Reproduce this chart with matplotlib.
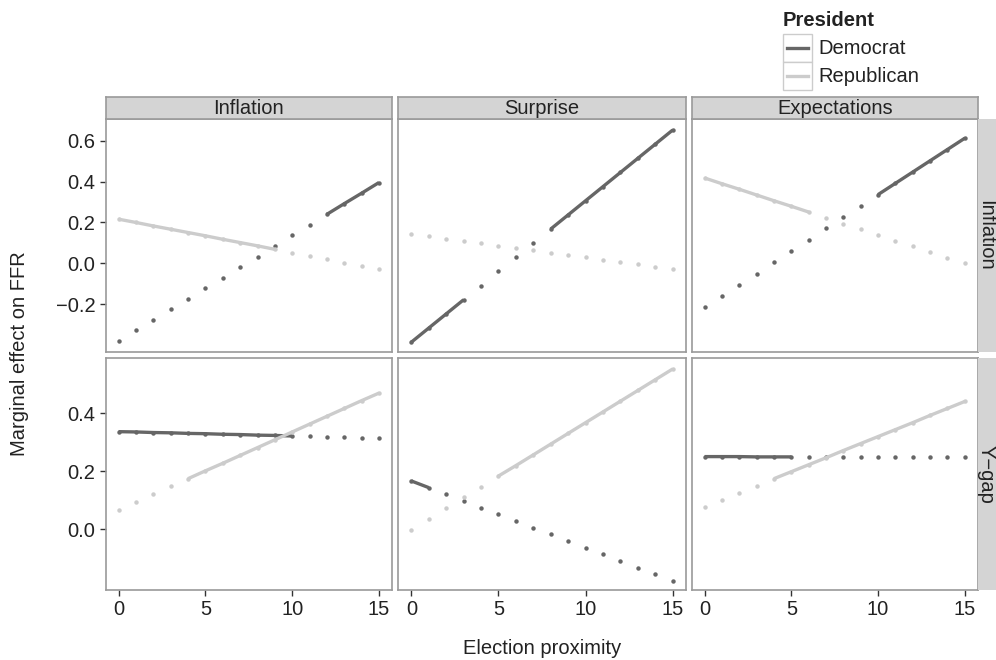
import matplotlib.pyplot as plt
from matplotlib.patches import Rectangle
from matplotlib.lines import Line2D

plt.rcParams['font.family'] = ['Liberation Sans', 'DejaVu Sans']

# data
proximity = list(range(16))
col_labels = ["Inflation", "Surprise", "Expectations"]
row_labels = ["Inflation", "Y\u2212gap"]
party_labels = ["Democrat", "Republican"]

# row "Inflation"
infl_infl_dem = [-0.378, -0.327, -0.275, -0.224, -0.172, -0.121, -0.069, -0.018,
                 0.034, 0.086, 0.137, 0.189, 0.240, 0.292, 0.343, 0.395]
infl_infl_rep = [0.216, 0.200, 0.183, 0.167, 0.151, 0.135, 0.118, 0.102,
                 0.086, 0.069, 0.053, 0.037, 0.020, 0.004, -0.012, -0.029]
surp_infl_dem = [-0.384, -0.315, -0.246, -0.177, -0.108, -0.039, 0.030, 0.099,
                 0.168, 0.237, 0.306, 0.375, 0.444, 0.513, 0.582, 0.651]
surp_infl_rep = [0.144, 0.133, 0.121, 0.110, 0.098, 0.087, 0.076, 0.064,
                 0.053, 0.041, 0.030, 0.019, 0.007, -0.004, -0.016, -0.027]
expt_infl_dem = [-0.214, -0.159, -0.104, -0.049, 0.006, 0.061, 0.116, 0.171,
                 0.226, 0.281, 0.336, 0.391, 0.446, 0.501, 0.556, 0.611]
expt_infl_rep = [0.417, 0.389, 0.362, 0.334, 0.306, 0.279, 0.251, 0.223,
                 0.195, 0.168, 0.140, 0.112, 0.085, 0.057, 0.029, 0.002]

# row "Y-gap"
infl_ygap_dem = [0.336, 0.335, 0.333, 0.332, 0.330, 0.329, 0.327, 0.326,
                 0.324, 0.323, 0.321, 0.320, 0.318, 0.317, 0.315, 0.314]
infl_ygap_rep = [0.066, 0.093, 0.120, 0.147, 0.174, 0.201, 0.227, 0.254,
                 0.281, 0.308, 0.335, 0.362, 0.389, 0.416, 0.443, 0.469]
surp_ygap_dem = [0.166, 0.143, 0.120, 0.097, 0.074, 0.051, 0.028, 0.005,
                 -0.018, -0.041, -0.064, -0.087, -0.110, -0.133, -0.156, -0.179]
surp_ygap_rep = [-0.002, 0.035, 0.072, 0.109, 0.146, 0.183, 0.219, 0.256,
                 0.293, 0.330, 0.367, 0.404, 0.441, 0.478, 0.515, 0.552]
expt_ygap_dem = [0.250, 0.250, 0.250, 0.249, 0.249, 0.249, 0.249, 0.248,
                 0.248, 0.248, 0.248, 0.248, 0.247, 0.247, 0.247, 0.247]
expt_ygap_rep = [0.077, 0.101, 0.125, 0.150, 0.174, 0.198, 0.222, 0.246,
                 0.271, 0.295, 0.319, 0.343, 0.367, 0.392, 0.416, 0.440]

# significant stretches (first, last proximity) drawn as solid lines
infl_infl_dem_sig = [(12, 15)]
infl_infl_rep_sig = [(0, 9)]
surp_infl_dem_sig = [(0, 3), (8, 15)]
surp_infl_rep_sig = []
expt_infl_dem_sig = [(10, 15)]
expt_infl_rep_sig = [(0, 6)]
infl_ygap_dem_sig = [(0, 10)]
infl_ygap_rep_sig = [(4, 15)]
surp_ygap_dem_sig = [(0, 1)]
surp_ygap_rep_sig = [(5, 15)]
expt_ygap_dem_sig = [(0, 5)]
expt_ygap_rep_sig = [(4, 15)]

panels = [
    [(infl_infl_dem, infl_infl_dem_sig, infl_infl_rep, infl_infl_rep_sig),
     (surp_infl_dem, surp_infl_dem_sig, surp_infl_rep, surp_infl_rep_sig),
     (expt_infl_dem, expt_infl_dem_sig, expt_infl_rep, expt_infl_rep_sig)],
    [(infl_ygap_dem, infl_ygap_dem_sig, infl_ygap_rep, infl_ygap_rep_sig),
     (surp_ygap_dem, surp_ygap_dem_sig, surp_ygap_rep, surp_ygap_rep_sig),
     (expt_ygap_dem, expt_ygap_dem_sig, expt_ygap_rep, expt_ygap_rep_sig)],
]

row_ticks = [[-0.2, 0.0, 0.2, 0.4, 0.6], [0.0, 0.2, 0.4]]
row_lims = [(-0.432, 0.705), (-0.210, 0.590)]
x_ticks = [0, 5, 10, 15]

dem_color = '#666666'
rep_color = '#cccccc'
border = '#9a9a9a'
strip_fill = '#d4d4d4'
text_color = '#222222'
fs = 14.5

W, H = 996, 660
fig = plt.figure(figsize=(W / 100, H / 100), dpi=100)


def px_axes(x0, y0, x1, y1):
    return fig.add_axes([x0 / W, 1 - y1 / H, (x1 - x0) / W, (y1 - y0) / H])


col_x = [(105.7, 392.0), (398.3, 685.7), (691.7, 977.7)]
row_y = [(119.0, 352.0), (358.0, 590.0)]


def draw_series(ax, vals, sig, color):
    ax.plot(proximity, vals, 'o', ms=3.2, color=color, mec='none', zorder=3)
    for s, e in sig:
        ax.plot(proximity[s:e + 1], vals[s:e + 1], lw=2.4, color=color,
                solid_capstyle='butt', zorder=3)


def fmt(t):
    return f"{t:.1f}".replace("-", "\u2212")


for r in range(2):
    for c in range(3):
        ax = px_axes(col_x[c][0], row_y[r][0], col_x[c][1], row_y[r][1])
        dem, dem_sig, rep, rep_sig = panels[r][c]
        draw_series(ax, dem, dem_sig, dem_color)
        draw_series(ax, rep, rep_sig, rep_color)
        ax.set_xlim(-0.75, 15.75)
        ax.set_ylim(*row_lims[r])
        ax.set_xticks(x_ticks)
        ax.set_yticks(row_ticks[r])
        for sp in ax.spines.values():
            sp.set_color(border)
            sp.set_linewidth(1.2)
        ax.tick_params(length=4.5, width=1, color='#333333',
                       labelsize=fs, labelcolor=text_color, pad=3)
        if c == 0:
            ax.set_yticklabels([fmt(t) for t in row_ticks[r]])
        else:
            ax.tick_params(axis='y', left=False, labelleft=False)
        if r == 1:
            ax.set_xticklabels([str(t) for t in x_ticks])
        else:
            ax.tick_params(axis='x', bottom=False, labelbottom=False)

# facet strips
for c in range(3):
    s = px_axes(col_x[c][0], 97, col_x[c][1], 119)
    s.set_facecolor(strip_fill)
    s.set_xticks([])
    s.set_yticks([])
    for sp in s.spines.values():
        sp.set_color(border)
        sp.set_linewidth(1.2)
    s.text(0.5, 0.47, col_labels[c], ha='center', va='center',
           fontsize=fs, color=text_color, transform=s.transAxes)

for r in range(2):
    s = px_axes(977.7, row_y[r][0], 996, row_y[r][1])
    s.set_facecolor(strip_fill)
    s.set_xticks([])
    s.set_yticks([])
    for sp in s.spines.values():
        sp.set_visible(False)
    s.text(0.45, 0.5, row_labels[r], ha='center', va='center', rotation=-90,
           fontsize=fs, color=text_color, transform=s.transAxes)

# axis titles
fig.text(541.7 / W, 1 - 649 / H, "Election proximity", ha='center', va='center',
         fontsize=fs, color=text_color)
fig.text(20 / W, 1 - 354 / H, "Marginal effect on FFR", ha='center', va='center',
         rotation=90, fontsize=fs, color=text_color)

# legend
fig.text(783 / W, 1 - 20 / H, "President", ha='left', va='center',
         fontsize=fs, fontweight='bold', color=text_color)
for i, (lab, col) in enumerate(zip(party_labels, [dem_color, rep_color])):
    y0 = 34 + i * 28
    fig.patches.append(Rectangle((783 / W, 1 - (y0 + 28) / H), 29 / W, 28 / H,
                                 transform=fig.transFigure, facecolor='white',
                                 edgecolor='#cccccc', lw=1))
    fig.lines.append(Line2D([787 / W, 808 / W], [1 - (y0 + 14) / H] * 2,
                            transform=fig.transFigure, color=col, lw=2.4))
    fig.text(818 / W, 1 - (y0 + 15) / H, lab, ha='left', va='center',
             fontsize=fs, color=text_color)

fig.savefig('out.png', dpi=100)
